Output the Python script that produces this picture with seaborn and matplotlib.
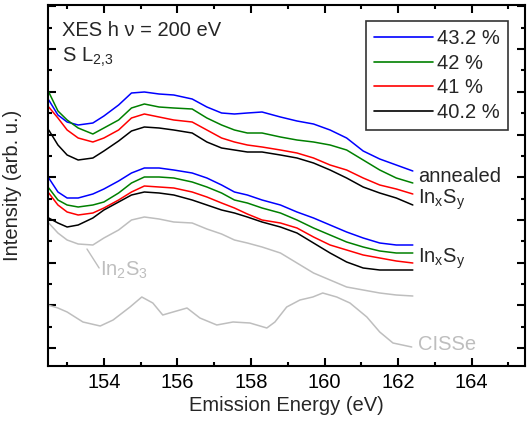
import numpy as np
import pandas as pd
import matplotlib
matplotlib.use("Agg")
import matplotlib.pyplot as plt
import seaborn as sns
from matplotlib.ticker import FixedLocator, MultipleLocator

# ---------------- data ----------------
energy = [152.5, 152.75, 153.0, 153.3, 153.7, 154.0, 154.4, 154.75, 155.1, 155.5,
          155.9, 156.4, 156.8, 157.2, 157.55, 157.9, 158.3, 158.8, 159.25, 159.7,
          160.15, 160.6, 161.05, 161.5, 161.95, 162.4]

ann_432 = [266, 251, 244, 241, 243, 250, 261, 273, 274, 272, 271, 267, 259, 253, 252,
           253, 254, 249, 245, 242, 236, 228, 215, 207, 201, 195]
ann_42 = [274, 255, 246, 238, 232, 238, 246, 258, 262, 259, 258, 257, 248, 241, 236,
          233, 233, 229, 226, 224, 221, 216, 206, 196, 188, 183]
ann_41 = [259, 248, 236, 228, 224, 228, 236, 248, 252, 249, 246, 244, 236, 228, 224,
          221, 219, 216, 213, 208, 201, 196, 188, 181, 177, 172]
ann_402 = [236, 221, 211, 206, 208, 215, 225, 235, 239, 238, 236, 233, 224, 218, 216,
           214, 214, 211, 208, 203, 196, 188, 179, 173, 168, 161]

ixs_432 = [188, 174, 168, 168, 172, 177, 185, 193, 198, 198, 196, 193, 188, 181, 174,
           171, 166, 161, 154, 148, 141, 134, 128, 123, 121, 121]
ixs_42 = [178, 166, 161, 159, 161, 164, 173, 183, 189, 189, 188, 184, 179, 173, 166,
          163, 158, 153, 146, 138, 131, 124, 119, 115, 113, 113]
ixs_41 = [173, 161, 154, 151, 153, 158, 166, 174, 180, 179, 178, 174, 169, 163, 158,
          152, 146, 143, 138, 129, 121, 116, 111, 108, 105, 103]
ixs_402 = [148, 143, 139, 141, 148, 156, 164, 171, 174, 173, 171, 166, 161, 156, 153,
           149, 144, 139, 133, 123, 113, 104, 98, 96, 96, 96]

in2s3 = [143, 133, 126, 122, 121, 128, 136, 146, 149, 147, 144, 143, 137, 132, 126,
         123, 119, 113, 103, 93, 86, 79, 76, 73, 71, 70]

cisse_energy = [152.48, 152.75, 153.0, 153.43, 153.9, 154.25, 154.71, 155.03, 155.33,
                155.6, 155.88, 156.26, 156.61, 157.07, 157.51, 157.97, 158.43, 158.65,
                158.97, 159.33, 159.68, 159.95, 160.33, 160.69, 161.15, 161.5, 161.86,
                162.37]
cisse = [61, 58, 54, 44, 40, 46, 59, 69, 63, 51, 54, 58, 48, 41, 44, 43, 38, 44, 59,
         66, 69, 73, 69, 63, 49, 34, 23, 19]

labels = ["43.2 %", "42 %", "41 %", "40.2 %"]
colors = ["#0000FF", "#008000", "#FF0000", "#000000"]
gray = "#BEBEBE"

# ---------------- style ----------------
sns.set_style("ticks")
plt.rcParams["font.family"] = ["Liberation Sans", "DejaVu Sans"]
plt.rcParams["mathtext.default"] = "regular"
FS = 14.5

fig = plt.figure(figsize=(5.27, 4.25), dpi=100)
ax = fig.add_axes([48 / 527, 59 / 425, 477 / 527, 361 / 425])

lw = 1.1
for ys, lab, c in zip([ann_432, ann_42, ann_41, ann_402], labels, colors):
    sns.lineplot(x=energy, y=ys, color=c, lw=lw, label=lab, ax=ax, legend=False)
for ys, c in zip([ixs_432, ixs_42, ixs_41, ixs_402], colors):
    sns.lineplot(x=energy, y=ys, color=c, lw=lw, ax=ax, legend=False)
sns.lineplot(x=energy, y=in2s3, color=gray, lw=lw, ax=ax, legend=False)
sns.lineplot(x=cisse_energy, y=cisse, color=gray, lw=lw, ax=ax, legend=False)

ax.set_xlim(152.48, 165.45)
ax.set_ylim(0, 361)

ax.xaxis.set_major_locator(MultipleLocator(2))
ax.xaxis.set_minor_locator(MultipleLocator(1))
ax.yaxis.set_major_locator(FixedLocator(np.arange(18, 361, 42.7)))
ax.yaxis.set_minor_locator(FixedLocator(np.arange(39.35, 361, 42.7)))
ax.set_yticklabels([])

ax.tick_params(which="both", direction="in", top=True, right=True, width=1.5,
               colors="black", labelsize=FS, pad=5)
ax.tick_params(which="major", length=5.5)
ax.tick_params(which="minor", length=3)
for s in ax.spines.values():
    s.set_linewidth(1.5)
    s.set_color("black")

ax.set_xlabel("Emission Energy (eV)", fontsize=FS, labelpad=3)
ax.set_ylabel("Intensity (arb. u.)", fontsize=FS, labelpad=14)

# annotations
ax.text(152.86, 330, "XES h \u03bd = 200 eV", fontsize=FS, va="baseline")
ax.text(152.86, 304, r"S L$_{2{,}3}$", fontsize=FS, va="baseline")
ax.text(162.54, 184, "annealed", fontsize=FS, va="baseline")
ax.text(162.54, 162, r"In$_x$S$_y$", fontsize=FS, va="baseline")
ax.text(162.54, 103, r"In$_x$S$_y$", fontsize=FS, va="baseline")
ax.text(162.54, 16, "CISSe", fontsize=FS, va="baseline", color=gray)
ax.text(153.89, 90, r"In$_2$S$_3$", fontsize=FS, va="baseline", color=gray)
ax.plot([153.54, 153.87], [117, 98], color=gray, lw=1.0)

leg = ax.legend(loc="upper right", bbox_to_anchor=(0.964, 0.956), borderaxespad=0,
                fontsize=FS, frameon=True, fancybox=False, handlelength=2.9,
                handletextpad=0.2, labelspacing=0.28, borderpad=0.4)
leg.get_frame().set_edgecolor("black")
leg.get_frame().set_linewidth(1.2)
for h in leg.get_lines():
    h.set_linewidth(1.2)

fig.savefig("out.png", dpi=100)
